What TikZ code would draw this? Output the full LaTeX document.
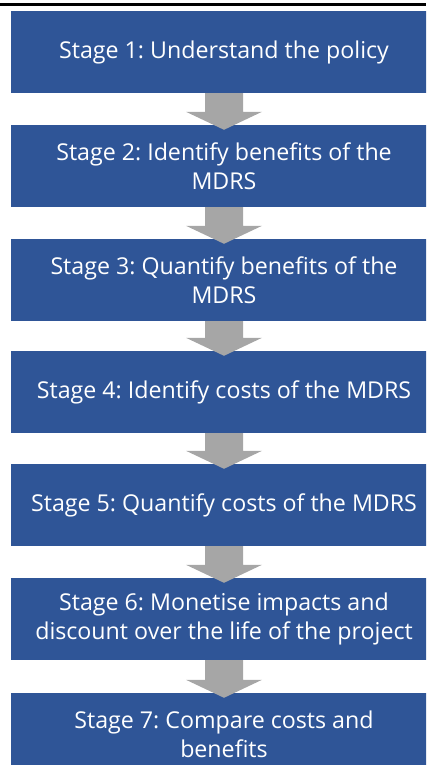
\documentclass[tikz,border=0pt]{standalone}
\usepackage{fontspec}
\setmainfont{Open Sans}
\usepackage{tikz}
\usetikzlibrary{positioning}
\definecolor{stageblue}{HTML}{2F5597}
\definecolor{arrowgray}{HTML}{A6A6A6}
\frenchspacing

\begin{document}
\begin{tikzpicture}
		[x=1pt,y=-1pt,every node/.style={rectangle,fill=stageblue,text=white,
		minimum width=426pt,minimum height=82pt,inner sep=0pt,align=center,
		font=\fontsize{23.2}{29}\selectfont}]
		\useasboundingbox (0,0) rectangle (426,765);
		\begin{scope}
		\clip (0,0) rectangle (426,765);
		\draw[line width=3pt] (0,5) -- (426,5);
		\node (s1) at (224,52)  {Stage 1: Understand the policy};
		\node (s2) at (224,166) {Stage 2: Identify benefits of the\\MDRS};
		\node (s3) at (224,280) {Stage 3: Quantify benefits of the\\MDRS};
		\node (s4) at (224,392) {Stage 4: Identify costs of the MDRS};
		\node (s5) at (224,505) {Stage 5: Quantify costs of the MDRS};
		\node (s6) at (224,619) {Stage 6: Monetise impacts and\\discount over the life of the project};
		\node (s7) at (224,734) {Stage 7: Compare costs and\\benefits};
		
		\foreach \from/\to in 
		{s1/s2, s2/s3, s3/s4, s4/s5, s5/s6, s6/s7}
		\fill[arrowgray] ([xshift=-19pt]\from.south) -- ([xshift=19pt]\from.south)
		  -- ([xshift=19pt,yshift=13pt]\to.north) -- ([xshift=38pt,yshift=13pt]\to.north)
		  -- ([yshift=-5pt]\to.north) -- ([xshift=-38pt,yshift=13pt]\to.north)
		  -- ([xshift=-19pt,yshift=13pt]\to.north) -- cycle;
		\end{scope}
		\end{tikzpicture}
\end{document}
